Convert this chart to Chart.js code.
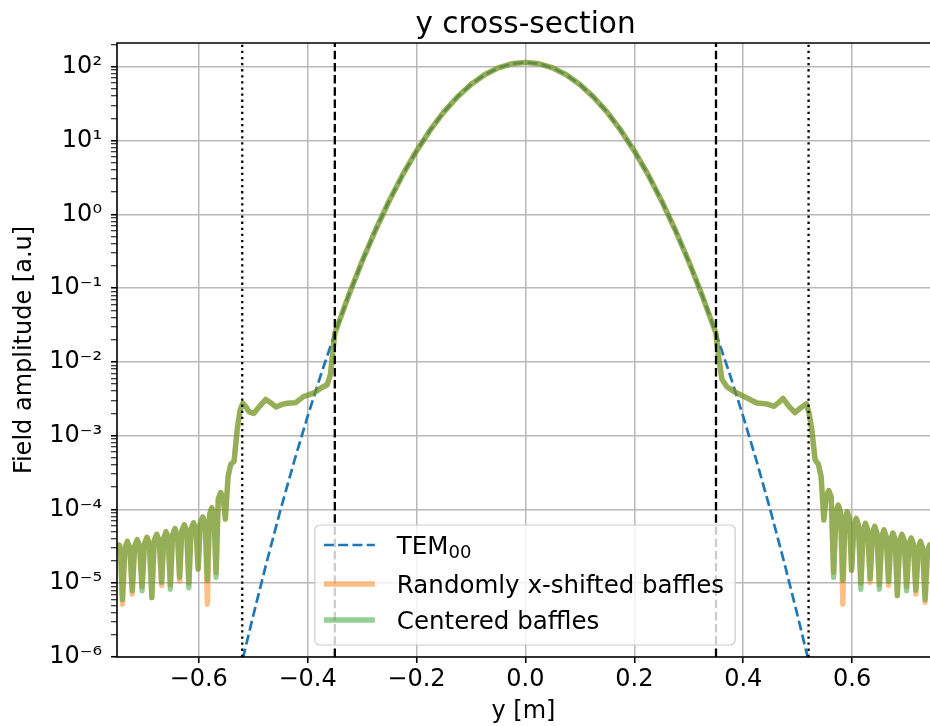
<!DOCTYPE html>
<html>
<head>
<meta charset="utf-8">
<title>y cross-section</title>
<script src="https://cdn.jsdelivr.net/npm/chart.js@4.4.1/dist/chart.umd.min.js"></script>
<style>
  html, body { margin: 0; padding: 0; background: #fff; }
  canvas { display: block; }
</style>
</head>
<body>
<canvas id="dataChart" width="930" height="726"></canvas>
<script>
// axis limits and ticks
const xMin = -0.75, xMax = 0.743;
const yMin = 1e-6, yMax = 210;
const xTickValues = [-0.6, -0.4, -0.2, 0, 0.2, 0.4, 0.6];
const xTickLabels = ['−0.6', '−0.4', '−0.2', '0.0', '0.2', '0.4', '0.6'];
const yTickValues = [1e-6, 1e-5, 1e-4, 1e-3, 1e-2, 1e-1, 1, 10, 100];
const yTickLabels = ['10⁻⁶', '10⁻⁵', '10⁻⁴', '10⁻³', '10⁻²', '10⁻¹', '10⁰', '10¹', '10²'];

const chartTitle = 'y cross-section';
const xTitle = 'y [m]';
const yTitle = 'Field amplitude [a.u]';
const seriesLabels = ['TEM', 'Randomly x-shifted baffles', 'Centered baffles'];
const seriesSubscripts = ['00', '', ''];

// baffle edges (vertical markers)
const dashedLineX = [-0.35, 0.35];
const dottedLineX = [-0.52, 0.52];

// TEM00 reference mode
const tem00X = [-0.525, -0.5, -0.475, -0.45, -0.425, -0.4, -0.375, -0.35, -0.325, -0.3, -0.275,
  -0.25, -0.225, -0.2, -0.175, -0.15, -0.125, -0.1, -0.075, -0.05, -0.025, 0,
  0.025, 0.05, 0.075, 0.1, 0.125, 0.15, 0.175, 0.2, 0.225, 0.25,
  0.275, 0.3, 0.325, 0.35, 0.375, 0.4, 0.425, 0.45, 0.475, 0.5, 0.525];
const tem00Y = [6.2e-7, 3.6e-6, 1.95e-5, 9.7e-5, 4.4e-4, 1.82e-3, 6.9e-3, 2.43e-2, 7.8e-2, 0.229, 0.618,
  1.53, 3.48, 7.24, 13.8, 24.3, 39.0, 57.5, 77.9, 96.6, 109.9, 114.8,
  109.9, 96.6, 77.9, 57.5, 39.0, 24.3, 13.8, 7.24, 3.48, 1.53,
  0.618, 0.229, 7.8e-2, 2.43e-2, 6.9e-3, 1.82e-3, 4.4e-4, 9.7e-5, 1.95e-5, 3.6e-6, 6.2e-7];

// field behind the baffles (shared sample positions)
const baffleX = [
  -0.750, -0.746, -0.7435, -0.740, -0.7355, -0.731, -0.7265, -0.722, -0.7175, -0.713, -0.7085, -0.704,
  -0.6995, -0.695, -0.6905, -0.686, -0.6815, -0.677, -0.6725, -0.668, -0.664, -0.660, -0.656, -0.652,
  -0.648, -0.6435, -0.639, -0.635, -0.631, -0.6265, -0.622, -0.618, -0.614, -0.6095, -0.605, -0.601,
  -0.597, -0.5925, -0.588, -0.584, -0.580, -0.576, -0.572, -0.568, -0.564, -0.5595, -0.555, -0.551,
  -0.546, -0.541, -0.535, -0.529, -0.524, -0.519, -0.514, -0.507, -0.499, -0.488, -0.477, -0.468,
  -0.458, -0.447, -0.437, -0.422, -0.407, -0.388, -0.376, -0.364, -0.358, -0.354, -0.350,
  -0.325, -0.3, -0.275, -0.25, -0.225, -0.2, -0.175, -0.15, -0.125, -0.1, -0.075, -0.05, -0.025, 0,
  0.025, 0.05, 0.075, 0.1, 0.125, 0.15, 0.175, 0.2, 0.225, 0.25, 0.275, 0.3, 0.325,
  0.350, 0.354, 0.361, 0.370, 0.382, 0.401, 0.425, 0.443, 0.456, 0.465, 0.473, 0.484, 0.495, 0.506,
  0.516, 0.521, 0.526, 0.532, 0.538, 0.543, 0.548,
  0.5525, 0.557, 0.5615, 0.566, 0.5705, 0.5745, 0.5785, 0.583, 0.587, 0.591, 0.595, 0.599,
  0.6035, 0.6075, 0.6115, 0.616, 0.6205, 0.6245, 0.6285, 0.633, 0.6375, 0.6415, 0.6455, 0.650,
  0.6545, 0.6585, 0.6625, 0.667, 0.671, 0.675, 0.679, 0.683, 0.6875, 0.6915, 0.6955, 0.700,
  0.7045, 0.7085, 0.7125, 0.717, 0.7215, 0.7255, 0.7295, 0.734, 0.7385, 0.7425, 0.746
];
const shiftedY = [
  3.2e-5, 3.3e-5, 2.6e-5, 5.2e-6, 3.0e-5, 3.7e-5, 3.0e-5, 7.1e-6, 3.2e-5, 3.9e-5, 3.2e-5, 9.0e-6,
  3.4e-5, 4.2e-5, 3.4e-5, 6.4e-6, 3.8e-5, 4.6e-5, 3.8e-5, 9.3e-6, 4.1e-5, 5.0e-5, 4.1e-5, 9.5e-6,
  4.5e-5, 5.5e-5, 4.5e-5, 1.07e-5, 5.1e-5, 6.2e-5, 5.1e-5, 1.0e-5, 5.4e-5, 6.6e-5, 5.4e-5, 1.55e-5,
  6.5e-5, 7.9e-5, 6.5e-5, 5.2e-6, 8.6e-5, 1.05e-4, 8.6e-5, 1.4e-5, 1.4e-4, 1.7e-4, 1.4e-4, 7.4e-5,
  2.8e-4, 4.1e-4, 4.5e-4, 1.26e-3, 2.2e-3, 2.75e-3, 2.5e-3, 2.1e-3, 2.0e-3, 2.5e-3, 3.1e-3, 2.8e-3,
  2.45e-3, 2.65e-3, 2.75e-3, 2.8e-3, 3.4e-3, 3.8e-3, 4.4e-3, 4.9e-3, 6.8e-3, 1.3e-2, 2.43e-2,
  7.8e-2, 0.229, 0.618, 1.53, 3.48, 7.24, 13.8, 24.3, 39.0, 57.5, 77.9, 96.6, 109.9, 114.8,
  109.9, 96.6, 77.9, 57.5, 39.0, 24.3, 13.8, 7.24, 3.48, 1.53, 0.618, 0.229, 7.8e-2,
  2.43e-2, 1.3e-2, 5.8e-3, 4.6e-3, 4.0e-3, 3.4e-3, 2.77e-3, 2.7e-3, 2.5e-3, 2.8e-3, 3.2e-3, 2.5e-3, 2.05e-3, 2.4e-3,
  2.7e-3, 2.0e-3, 1.2e-3, 4.7e-4, 4.1e-4, 2.8e-4, 7.2e-5,
  1.5e-4, 1.8e-4, 1.5e-4, 1.4e-5, 9.4e-5, 1.15e-4, 9.4e-5, 5.2e-6, 7.6e-5, 9.3e-5, 7.6e-5, 1.5e-5,
  6.2e-5, 7.6e-5, 6.2e-5, 1.0e-5, 5.3e-5, 6.5e-5, 5.3e-5, 1.03e-5, 4.8e-5, 5.9e-5, 4.8e-5, 9.5e-6,
  4.3e-5, 5.3e-5, 4.3e-5, 9.3e-6, 3.9e-5, 4.8e-5, 3.9e-5, 6.8e-6, 3.8e-5, 4.6e-5, 3.8e-5, 9.0e-6,
  3.4e-5, 4.1e-5, 3.4e-5, 7.1e-6, 3.0e-5, 3.7e-5, 3.0e-5, 5.5e-6, 2.7e-5, 3.3e-5, 3.2e-5
];
const centeredY = [
  3.2e-5, 3.3e-5, 2.6e-5, 6.0e-6, 3.0e-5, 3.7e-5, 3.0e-5, 7.9e-6, 3.2e-5, 3.9e-5, 3.2e-5, 7.9e-6,
  3.4e-5, 4.2e-5, 3.4e-5, 6.4e-6, 3.8e-5, 4.6e-5, 3.8e-5, 1.03e-5, 4.1e-5, 5.0e-5, 4.1e-5, 8.3e-6,
  4.5e-5, 5.5e-5, 4.5e-5, 1.2e-5, 5.1e-5, 6.2e-5, 5.1e-5, 8.7e-6, 5.4e-5, 6.6e-5, 5.4e-5, 1.55e-5,
  6.5e-5, 7.9e-5, 6.5e-5, 1.1e-5, 8.6e-5, 1.05e-4, 8.6e-5, 1.2e-5, 1.4e-4, 1.7e-4, 1.4e-4, 7.4e-5,
  2.8e-4, 4.1e-4, 4.5e-4, 1.26e-3, 2.2e-3, 2.75e-3, 2.5e-3, 2.1e-3, 2.0e-3, 2.5e-3, 3.1e-3, 2.8e-3,
  2.45e-3, 2.65e-3, 2.75e-3, 2.8e-3, 3.4e-3, 3.8e-3, 4.4e-3, 4.9e-3, 6.8e-3, 1.3e-2, 2.43e-2,
  7.8e-2, 0.229, 0.618, 1.53, 3.48, 7.24, 13.8, 24.3, 39.0, 57.5, 77.9, 96.6, 109.9, 114.8,
  109.9, 96.6, 77.9, 57.5, 39.0, 24.3, 13.8, 7.24, 3.48, 1.53, 0.618, 0.229, 7.8e-2,
  2.43e-2, 1.3e-2, 5.8e-3, 4.6e-3, 4.0e-3, 3.4e-3, 2.77e-3, 2.7e-3, 2.5e-3, 2.8e-3, 3.2e-3, 2.5e-3, 2.05e-3, 2.4e-3,
  2.7e-3, 2.0e-3, 1.2e-3, 4.7e-4, 4.1e-4, 2.8e-4, 7.2e-5,
  1.5e-4, 1.8e-4, 1.5e-4, 1.2e-5, 9.4e-5, 1.15e-4, 9.4e-5, 1.1e-5, 7.6e-5, 9.3e-5, 7.6e-5, 1.5e-5,
  6.2e-5, 7.6e-5, 6.2e-5, 8.3e-6, 5.3e-5, 6.5e-5, 5.3e-5, 1.15e-5, 4.8e-5, 5.9e-5, 4.8e-5, 8.3e-6,
  4.3e-5, 5.3e-5, 4.3e-5, 1.05e-5, 3.9e-5, 4.8e-5, 3.9e-5, 6.8e-6, 3.8e-5, 4.6e-5, 3.8e-5, 7.9e-6,
  3.4e-5, 4.1e-5, 3.4e-5, 8.0e-6, 3.0e-5, 3.7e-5, 3.0e-5, 6.0e-6, 2.7e-5, 3.3e-5, 3.2e-5
];

const FONT = 'DejaVu Sans';
Chart.defaults.font.family = FONT;
Chart.defaults.color = '#000';

const toPoints = (xs, ys) => xs.map((x, i) => ({ x: x, y: ys[i] }));
const isDecade = v => Math.abs(Math.log10(v) - Math.round(Math.log10(v))) < 1e-9;

const datasets = [
  { label: seriesLabels[0] + seriesSubscripts[0], data: toPoints(tem00X, tem00Y), borderColor: '#1f77b4',
    borderWidth: 2.7, borderDash: [10, 4.3], order: 3 },
  { label: seriesLabels[1], data: toPoints(baffleX, shiftedY), borderColor: 'rgba(255,127,14,0.5)',
    borderWidth: 5.4, borderJoinStyle: 'round', order: 2 },
  { label: seriesLabels[2], data: toPoints(baffleX, centeredY), borderColor: 'rgba(44,160,44,0.5)',
    borderWidth: 5.4, borderJoinStyle: 'round', order: 1 }
];
dashedLineX.forEach(x => datasets.push({ data: [{ x: x, y: yMin }, { x: x, y: yMax }],
  borderColor: '#000', borderWidth: 2.3, borderDash: [8.5, 3.7], order: 0 }));
dottedLineX.forEach(x => datasets.push({ data: [{ x: x, y: yMin }, { x: x, y: yMax }],
  borderColor: '#000', borderWidth: 2.3, borderDash: [2.3, 3.8], order: 0 }));
datasets.forEach(d => { d.pointRadius = 0; d.fill = false; d.tension = 0; d.clip = 0; });

function roundedRect(ctx, x, y, w, h, r) {
  ctx.beginPath();
  ctx.moveTo(x + r, y);
  ctx.lineTo(x + w - r, y);
  ctx.arcTo(x + w, y, x + w, y + r, r);
  ctx.lineTo(x + w, y + h - r);
  ctx.arcTo(x + w, y + h, x + w - r, y + h, r);
  ctx.lineTo(x + r, y + h);
  ctx.arcTo(x, y + h, x, y + h - r, r);
  ctx.lineTo(x, y + r);
  ctx.arcTo(x, y, x + r, y, r);
  ctx.closePath();
}

// legend drawn inside the plot, over the data
const legendBox = {
  id: 'legendBox',
  afterDatasetsDraw(chart) {
    const { ctx, chartArea: a } = chart;
    ctx.save();
    const mainFont = '24.5px "' + FONT + '"';
    const subFont = '18px "' + FONT + '"';
    ctx.font = mainFont;
    const textW = Math.max(...seriesLabels.map(t => ctx.measureText(t).width));
    const w = 9 + 51 + 22 + textW + 11, h = 120;
    const left = (a.left + a.right) / 2 + 1.5 - w / 2;
    const top = a.bottom - 12 - h;
    roundedRect(ctx, left, top, w, h, 5);
    ctx.fillStyle = 'rgba(255,255,255,0.8)';
    ctx.fill();
    ctx.strokeStyle = '#cccccc';
    ctx.lineWidth = 1.2;
    ctx.stroke();
    const rows = [20, 59, 95];
    for (let i = 0; i < 3; i++) {
      const ds = chart.data.datasets[i];
      const yy = top + rows[i];
      ctx.beginPath();
      ctx.setLineDash(ds.borderDash || []);
      ctx.strokeStyle = ds.borderColor;
      ctx.lineWidth = ds.borderWidth;
      ctx.moveTo(left + 9, yy);
      ctx.lineTo(left + 60, yy);
      ctx.stroke();
      ctx.setLineDash([]);
      ctx.fillStyle = '#000';
      ctx.textBaseline = 'alphabetic';
      ctx.textAlign = 'left';
      ctx.font = mainFont;
      ctx.fillText(seriesLabels[i], left + 82, yy + 9);
      if (seriesSubscripts[i]) {
        const mw = ctx.measureText(seriesLabels[i]).width;
        ctx.font = subFont;
        ctx.fillText(seriesSubscripts[i], left + 82 + mw, yy + 13);
      }
    }
    ctx.restore();
  }
};

// spines and title
const frame = {
  id: 'frame',
  afterDraw(chart) {
    const { ctx, chartArea: a } = chart;
    ctx.save();
    ctx.strokeStyle = '#000';
    ctx.lineWidth = 1.6;
    ctx.beginPath();
    ctx.moveTo(a.right + 2, a.top);
    ctx.lineTo(a.left, a.top);
    ctx.lineTo(a.left, a.bottom);
    ctx.lineTo(a.right + 2, a.bottom);
    ctx.stroke();
    ctx.fillStyle = '#000';
    ctx.font = '29.5px "' + FONT + '"';
    ctx.textAlign = 'center';
    ctx.textBaseline = 'alphabetic';
    ctx.fillText(chartTitle, (a.left + a.right) / 2 + 2, 33);
    ctx.restore();
  }
};

const ctx = document.getElementById('dataChart').getContext('2d');
const dataChart = new Chart(ctx, {
  type: 'line',
  data: { datasets: datasets },
  plugins: [legendBox, frame],
  options: {
    responsive: false,
    animation: false,
    devicePixelRatio: 1,
    layout: { padding: { top: 43, right: 0, bottom: 0, left: 0 } },
    plugins: { legend: { display: false }, tooltip: { enabled: false } },
    scales: {
      x: {
        type: 'linear',
        min: xMin,
        max: xMax,
        afterBuildTicks: s => { s.ticks = xTickValues.map(v => ({ value: v })); },
        afterFit: s => { s.height = 69; },
        ticks: {
          autoSkip: false, maxRotation: 0, padding: 2, color: '#000',
          font: { size: 24 },
          callback: v => {
            const i = xTickValues.findIndex(t => Math.abs(t - v) < 1e-9);
            return i >= 0 ? xTickLabels[i] : '';
          }
        },
        grid: { color: '#b8b8b8', lineWidth: 1.5, tickColor: '#000', tickLength: 6, tickWidth: 1.6 },
        border: { display: false },
        title: { display: true, text: xTitle, color: '#000', font: { size: 24 }, padding: { top: 0, bottom: 0 } }
      },
      y: {
        type: 'logarithmic',
        min: yMin,
        max: yMax,
        afterBuildTicks: s => {
          const t = [];
          yTickValues.forEach(d => {
            t.push({ value: d });
            for (let m = 2; m <= 9; m++) {
              if (m * d <= yMax) t.push({ value: m * d });
            }
          });
          s.ticks = t;
        },
        afterFit: s => { s.width = 117; },
        ticks: {
          autoSkip: false, padding: 9, color: '#000',
          font: { size: 24 },
          callback: v => {
            const i = yTickValues.findIndex(t => Math.abs(t - v) / t < 1e-9);
            return i >= 0 ? yTickLabels[i] : '';
          }
        },
        grid: {
          color: c => (c.tick && isDecade(c.tick.value)) ? '#b8b8b8' : 'rgba(0,0,0,0)',
          lineWidth: 1.5,
          tickColor: '#000',
          tickLength: 6,
          tickWidth: c => (c.tick && isDecade(c.tick.value)) ? 1.6 : 1.0
        },
        border: { display: false },
        title: { display: true, text: yTitle, color: '#000', font: { size: 24 }, padding: { top: 10, bottom: 0 } }
      }
    }
  }
});
</script>
</body>
</html>
